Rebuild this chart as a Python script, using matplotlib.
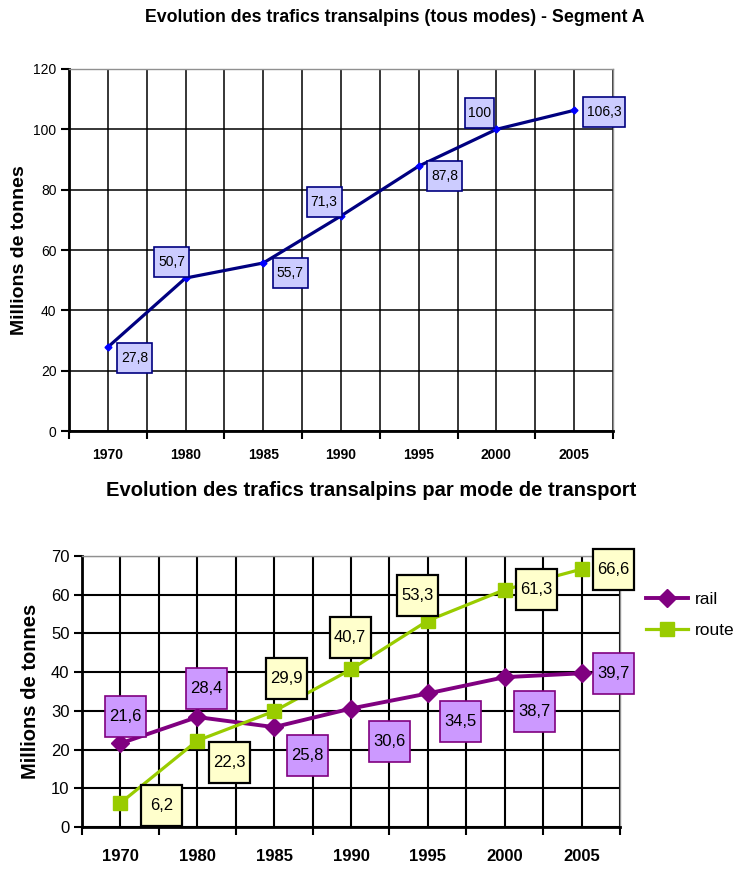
import numpy as np
import matplotlib
matplotlib.use("Agg")
import matplotlib.pyplot as plt
import matplotlib.transforms as mtransforms
from matplotlib.patches import Rectangle

plt.rcParams["font.family"] = ["Liberation Sans", "DejaVu Sans"]

# ---------------------------------------------------------------------------
# data
# ---------------------------------------------------------------------------
years = ["1970", "1980", "1985", "1990", "1995", "2000", "2005"]
total = [27.8, 50.7, 55.7, 71.3, 87.8, 100, 106.3]
rail = [21.6, 28.4, 25.8, 30.6, 34.5, 38.7, 39.7]
route = [6.2, 22.3, 29.9, 40.7, 53.3, 61.3, 66.6]

# label box offsets (pixels from the point, y up)
total_off = [(27, -11), (-14, 16), (27, -10), (-17, 14), (26, -10), (-17, 16), (30, -2)]
rail_off = [(5, 27), (9, 29), (33, -28), (38, -33), (33, -28), (30, -34), (32, 0)]
route_off = [(41, -3), (32, -22), (12, 33), (-1, 32), (-10, 25), (32, 0), (32, 0)]

W, H = 741, 869
fig = plt.figure(figsize=(W / 100, H / 100), dpi=100)
x = np.arange(len(years))


def fmt(v):
    return ("%g" % v).replace(".", ",")


def box_label(ax, xv, yv, text, off, size, fc, ec, fs, elw=1.2):
    # box drawn in pixels around a point given in data coords
    trans = fig.dpi_scale_trans + mtransforms.ScaledTranslation(xv, yv, ax.transData)
    bw, bh = size[0] / 100, size[1] / 100
    cx, cy = off[0] / 100, off[1] / 100
    ax.add_patch(Rectangle((cx - bw / 2, cy - bh / 2), bw, bh, transform=trans,
                           fc=fc, ec=ec, lw=elw, zorder=5, clip_on=False))
    ax.text(cx, cy, text, transform=trans, ha="center", va="center",
            fontsize=fs, zorder=6, clip_on=False)


def style_axes(ax, ymax, ystep, glw):
    ax.set_xlim(-0.5, len(years) - 0.5)
    ax.set_ylim(0, ymax)
    ax.set_xticks(x)
    ax.set_xticks(np.arange(-0.5, len(years), 1), minor=True)
    ax.set_yticks(np.arange(0, ymax + 1, ystep))
    ax.grid(True, which="both", axis="x", color="black", lw=glw)
    ax.grid(True, which="major", axis="y", color="black", lw=glw)
    ax.set_axisbelow(True)
    ax.tick_params(axis="x", which="minor", length=6, width=1.5, direction="out")
    ax.tick_params(axis="y", length=6, width=1.5, direction="out", pad=3)
    for s in ("top", "right"):
        ax.spines[s].set_color("#909090")
        ax.spines[s].set_linewidth(1)
    for s in ("left", "bottom"):
        ax.spines[s].set_color("black")
        ax.spines[s].set_linewidth(2)


# ---------------------------------------------------------------------------
# top chart: all modes
# ---------------------------------------------------------------------------
ax1 = fig.add_axes([69 / W, 1 - 431 / H, 544 / W, 362 / H])
style_axes(ax1, 120, 20, 1.1)
ax1.tick_params(axis="x", which="major", length=0, pad=12)
ax1.plot(x, total, color="#000080", lw=2.3, marker="D", ms=3.5,
         mfc="#0000ff", mec="#0000ff", zorder=4)
for i, v in enumerate(total):
    txt = fmt(v)
    box_label(ax1, x[i], v, txt, total_off[i], (9 + 6.5 * len(txt), 30),
              "#ccccff", "#000080", 10)
ax1.set_xticklabels(years, fontsize=10, fontweight="bold")
ax1.tick_params(axis="y", labelsize=10)
ax1.set_ylabel("Millions de tonnes", fontsize=14, fontweight="bold", labelpad=4)
fig.text(395 / W, 1 - 18 / H, "Evolution des trafics transalpins (tous modes) - Segment A",
         ha="center", va="center", fontsize=12.8, fontweight="bold")

# ---------------------------------------------------------------------------
# bottom chart: rail vs route
# ---------------------------------------------------------------------------
ax2 = fig.add_axes([82 / W, 1 - 827 / H, 538 / W, 271 / H])
style_axes(ax2, 70, 10, 1.5)
ax2.tick_params(axis="x", which="major", length=0, pad=16)
ax2.plot(x, rail, color="#800080", lw=2.8, marker="D", ms=9, label="rail", zorder=4)
ax2.plot(x, route, color="#99cc00", lw=2.3, marker="s", ms=10.5, label="route", zorder=4)
for i, v in enumerate(rail):
    box_label(ax2, x[i], v, fmt(v), rail_off[i], (41, 41), "#cc99ff", "#800080", 12)
for i, v in enumerate(route):
    box_label(ax2, x[i], v, fmt(v), route_off[i], (41, 41), "#ffffcc", "black", 12, 1.6)
ax2.set_xticklabels(years, fontsize=12, fontweight="bold")
ax2.tick_params(axis="y", labelsize=12)
ax2.set_ylabel("Millions de tonnes", fontsize=14.5, fontweight="bold", labelpad=8)
ax2.legend(loc="center left", bbox_to_anchor=(646 / W, 1 - 615 / H),
           bbox_transform=fig.transFigure, frameon=False, fontsize=12.5,
           handlelength=2.4, handletextpad=0.4, labelspacing=0.9,
           borderpad=0, borderaxespad=0)
fig.text(371 / W, 1 - 490 / H, "Evolution des trafics transalpins par mode de transport",
         ha="center", va="center", fontsize=14.5, fontweight="bold")

fig.savefig("out.png", dpi=100)
